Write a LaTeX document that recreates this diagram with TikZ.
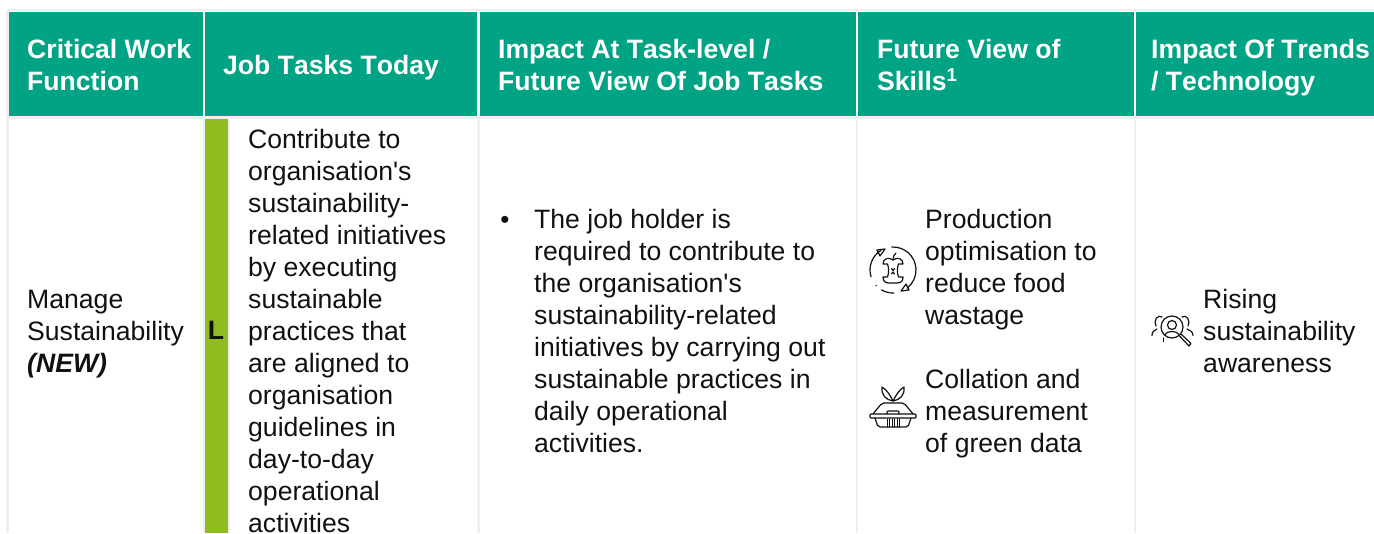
\documentclass[tikz,border=0pt]{standalone}
\usepackage{fontspec}
\setmainfont[Ligatures=TeXOff,BoldFeatures={Kerning=Off},BoldItalicFeatures={Kerning=Off}]{Liberation Sans}
\definecolor{hdr}{HTML}{00A383}
\definecolor{lvl}{HTML}{8FBC1F}
\definecolor{gridc}{HTML}{EFEFEF}
\definecolor{ink}{HTML}{111111}
\newcommand{\hs}{\vphantom{Ág}}
\tikzset{
  htext/.style={anchor=west,inner sep=0pt,text=white,align=left,font=\bfseries\fontsize{26.6}{32}\selectfont},
  btext/.style={anchor=north west,inner sep=0pt,text=ink,align=left,font=\fontsize{26.6}{32}\selectfont},
  icon/.style={draw=ink,line width=1.2pt,line cap=round,line join=round,fill=none},
  gridline/.style={draw=gridc,line width=2.5pt}
}
\begin{document}
\begin{tikzpicture}[x=1pt,y=-1pt]
\useasboundingbox (0,0) rectangle (1374,533);
% header cells
\fill[hdr] (9,12) rectangle (203,116);
\fill[hdr] (205,12) rectangle (477,116);
\fill[hdr] (480,12) rectangle (856,116);
\fill[hdr] (858,12) rectangle (1134,116);
\fill[hdr] (1136,12) rectangle (1374,116);
% grid
\draw[gridline] (7.5,10) -- (1374,10);
\draw[gridline] (7.5,10) -- (7.5,533);
\draw[gridline] (7.5,117.5) -- (1374,117.5);
\draw[gridline] (204,117) -- (204,533);
\draw[gridline] (478.5,117) -- (478.5,533);
\draw[gridline] (857,117) -- (857,533);
\draw[gridline] (1135,117) -- (1135,533);
\draw[gridline] (229,118) -- (229,533);
% level bar
\fill[lvl] (205,119) rectangle (228,533);
% header text
\node[htext] (h1) at (27,66) {\hs Critical Work\\Function\hs};
\node[htext] (h2) at (223,65.5) {\hs Job Tasks Today\hs};
\node[htext] (h3) at (498,66) {\hs Impact At Task-level /\\Future View Of Job Tasks\hs};
\node[htext] (h4) at (877,66) {\hs Future View of\\Skills\textsuperscript{1}\hs};
\node[htext] (h5) at (1151,66) {\hs Impact Of Trends\\/ Technology\hs};
% body text
\node[btext] (c1) at (27,290) {Manage\\Sustainability\\\textbf{\textit{(NEW)}}};
\node[font=\bfseries\fontsize{26.6}{32}\selectfont,text=ink,inner sep=0pt] (lv) at (216,330.5) {L};
\node[btext] (c2) at (248,129) {Contribute to\\organisation's\\sustainability-\\related initiatives\\by executing\\sustainable\\practices that\\are aligned to\\organisation\\guidelines in\\day-to-day\\operational\\activities};
\node[text=ink,inner sep=0pt,font=\fontsize{26}{28}\selectfont] (bul) at (505,222) {•};
\node[btext] (c3) at (534,209) {The job holder is\\required to contribute to\\the organisation's\\sustainability-related\\initiatives by carrying out\\sustainable practices in\\daily operational\\activities.};
\node[btext] (c4a) at (925,209) {Production\\optimisation to\\reduce food\\wastage};
\node[btext] (c4b) at (925,369) {Collation and\\measurement\\of green data};
\node[btext] (c5) at (1203,289) {Rising\\sustainability\\awareness};
% apple icon: arcs, y pointing up
\begin{scope}[shift={(893,270)},y=1pt]
\draw[icon] (93:23) arc[start angle=93,end angle=-52,radius=23];
\draw[icon] (122:23) arc[start angle=122,end angle=197,radius=23];
\draw[icon] (240:23) arc[start angle=240,end angle=272,radius=23];
\fill[ink] (223:23) circle (0.8);
\draw[icon] (-16,20) -- (-8,21) -- (-13,14) -- cycle;
\draw[icon] (8,-21) -- (16,-20) -- (13,-14) -- cycle;
\end{scope}
\begin{scope}[shift={(893,270)}]
\draw[icon] (0,-10) .. controls (-4,-13) and (-10,-12) .. (-10,-6) -- (-5.5,-6) .. controls (-4,-2) and (-4,3) .. (-5.5,7) -- (-10,7) .. controls (-10,11) and (-8,13) .. (-4,13) -- (4,13) .. controls (8,13) and (10,11) .. (10,7) -- (5.5,7) .. controls (4,3) and (4,-2) .. (5.5,-6) -- (10,-6) .. controls (10,-12) and (4,-13) .. (0,-10);
\draw[icon] (0,-10) .. controls (0,-13) and (1,-15.5) .. (3,-17);
\draw[icon] (-1.5,-1.5) -- (0,0.5) -- (1.5,-1.5) (-1.5,4) -- (0,2) -- (1.5,4);
\end{scope}
% box icon
\begin{scope}[shift={(893,410)}]
\draw[icon,rounded corners=1pt] (-23,4) -- (23,4) -- (23,8) -- (-23,8) -- cycle;
\draw[icon,rounded corners=2pt] (-20,4) -- (-11,-7) -- (11,-7) -- (20,4);
\draw[icon,rounded corners=2pt] (-18,8) -- (-15,17) -- (15,17) -- (18,8);
\draw[icon,rounded corners=1pt] (-6,4) -- (-6,1) -- (6,1) -- (6,4);
\foreach \i in {-6,-3.5,-1,1.5,4,6.5} \draw[icon,line width=0.8pt] (\i,9) -- (\i,17);
\draw[icon] (0,-9) .. controls (-3,-15) and (-6,-20) .. (-11,-23) .. controls (-12,-15) and (-7,-10) .. (0,-9);
\draw[icon] (0,-9) .. controls (3,-15) and (6,-20) .. (11,-23) .. controls (12,-15) and (7,-10) .. (0,-9);
\end{scope}
% people icon
\begin{scope}[shift={(1172,327)}]
\draw[icon] (0,-2) circle (4.5);
\draw[icon] (0,0) circle (11);
\draw[icon] (-7,7.5) .. controls (-5,3.5) and (5,3.5) .. (7,7.5);
\draw[icon] (-10,-10) .. controls (-14,-13) and (-19,-7) .. (-16,-1);
\draw[icon] (10,-10) .. controls (14,-13) and (19,-7) .. (16,-1);
\draw[icon] (-15,2) .. controls (-18,3) and (-20,5) .. (-20,8.5);
\draw[icon] (15,2) .. controls (18,3) and (21,5) .. (21,8.5);
\draw[icon] (-8.5,11) -- (-8.5,14.5);
\draw[icon] (9,7) -- (19,16.5) -- (17,19) -- (7.5,9);
\end{scope}
\end{tikzpicture}
\end{document}
